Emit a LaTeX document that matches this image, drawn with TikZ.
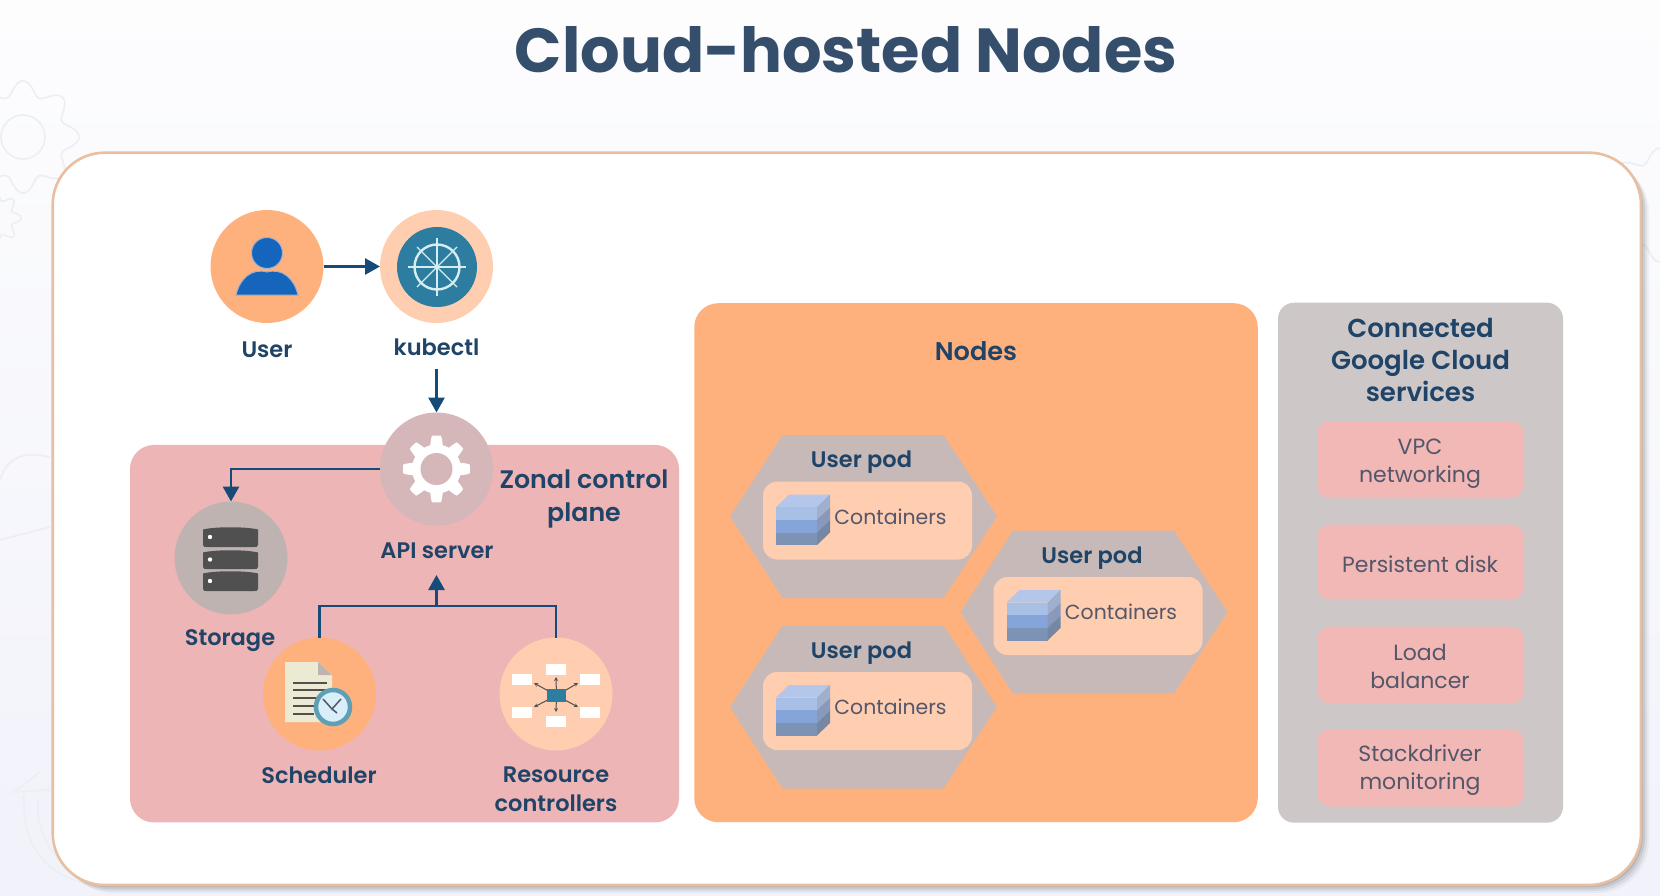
\documentclass[tikz,border=0pt]{standalone}
\usepackage{fontspec}
\setmainfont{Poppins}[BoldFont={Poppins SemiBold}]
\newfontfamily\headfont{Poppins}
\usetikzlibrary{arrows.meta,shapes.geometric}
\definecolor{ink}{HTML}{1F4468}
\definecolor{titleink}{HTML}{344E6C}
\definecolor{soft}{HTML}{54566A}
\definecolor{wire}{HTML}{164A78}
\definecolor{peach}{HTML}{FFB17D}
\definecolor{lightpeach}{HTML}{FFCDB0}
\definecolor{rosy}{HTML}{EDB5B5}
\definecolor{apicol}{HTML}{D5B6B9}
\definecolor{stor}{HTML}{BFB3B2}
\definecolor{hexcol}{HTML}{C6B9B7}
\definecolor{svc}{HTML}{CEC7C7}
\definecolor{svcbox}{HTML}{F1B8B6}
\definecolor{ghost}{HTML}{ECEEF4}
\definecolor{framecol}{HTML}{E8BFA0}
\definecolor{bgtop}{HTML}{FDFDFE}
\definecolor{bgbot}{HTML}{F1F2FA}
\definecolor{cubetop}{HTML}{B4C7EA}
\definecolor{cubea}{HTML}{A9C0E6}
\definecolor{cubeb}{HTML}{85A4DA}
\definecolor{cubec}{HTML}{7C93B5}
\definecolor{cubed}{HTML}{A0B0CC}
\definecolor{cubee}{HTML}{8899BB}
\definecolor{cubef}{HTML}{7587A3}
\definecolor{userblue}{HTML}{1565BD}
\definecolor{helm}{HTML}{2C7DA0}
\definecolor{helmline}{HTML}{D6EEF2}
\definecolor{disk}{HTML}{505050}
\definecolor{paper}{HTML}{ECEAD2}
\definecolor{ringc}{HTML}{5F9FB5}
\definecolor{facec}{HTML}{D8EEF8}
\tikzset{
  x=1pt,y=-1pt,
  disc/.style={circle,minimum size=113pt,inner sep=0pt,outer sep=0pt},
  panel/.style={rectangle,rounded corners=24pt,inner sep=0pt,outer sep=0pt},
  smallbox/.style={rectangle,rounded corners=13pt,inner sep=0pt,outer sep=0pt,fill=svcbox,minimum width=207pt},
  lab/.style={inner sep=0pt,outer sep=0pt,text=ink,align=center,font=\fontsize{22.5}{29}\selectfont\bfseries},
  soft text/.style={inner sep=0pt,outer sep=0pt,text=soft,align=center,font=\fontsize{22}{28}\selectfont},
  cont text/.style={inner sep=0pt,outer sep=0pt,text=soft,font=\fontsize{20.4}{24}\selectfont},
  wirearrow/.style={draw=wire,line width=2.8pt,-{Triangle[length=15pt,width=16pt]}},
  wireline/.style={draw=wire,line width=2.8pt},
  ghostline/.style={draw=ghost,line width=1.6pt},
}
\newcommand{\gearpath}[4]{% cx cy r amp
  plot[samples=181,domain=0:360,smooth] ({#1+(#3+#4*cos(8*\x))*cos(\x)},{#2+(#3+#4*cos(8*\x))*sin(\x)}) -- cycle}
\newcommand{\cubeicon}{%
  \fill[cubetop] (-87.5,-9.5) -- (-74.5,-22) -- (-33.5,-22) -- (-46.5,-9.5) -- cycle;
  \fill[cubea] (-87.5,-9.5) rectangle (-46.5,3);
  \fill[cubeb] (-87.5,3) rectangle (-46.5,16);
  \fill[cubec] (-87.5,16) rectangle (-46.5,28.5);
  \fill[cubed] (-46.5,-9.5) -- (-33.5,-22) -- (-33.5,-9) -- (-46.5,3) -- cycle;
  \fill[cubee] (-46.5,3) -- (-33.5,-9) -- (-33.5,3.5) -- (-46.5,16) -- cycle;
  \fill[cubef] (-46.5,16) -- (-33.5,3.5) -- (-33.5,16) -- (-46.5,28.5) -- cycle;
}
\newcommand{\podgroup}[3]{% name cx cy
  \begin{scope}[shift={(#2,#3)}]
    \fill[hexcol] (-133.5,0) -- (-81,-81.5) -- (80,-81.5) -- (133.5,0) -- (80,81.5) -- (-81,81.5) -- cycle;
    \node[lab] (#1label) at (-2,-54) {User pod};
    \node[rectangle,rounded corners=14pt,fill=lightpeach,minimum width=209pt,minimum height=78pt,inner sep=0pt] (#1inner) at (4,4) {};
    \cubeicon
    \node[cont text] (#1text) at (27,0) {Containers};
  \end{scope}}
\begin{document}
\begin{tikzpicture}
\useasboundingbox (0,0) rectangle (1660,896);
% background
\shade[top color=bgtop,bottom color=bgbot] (0,0) rectangle (1660,896);
% ghost decorations
\draw[ghostline] \gearpath{23}{137}{49}{7};
\draw[ghostline] (23,137) circle (22);
\draw[ghostline] \gearpath{-5}{218}{22}{4};
\draw[ghostline] (0,480) .. controls (8,455) and (25,452) .. (50,457);
\draw[ghostline] (0,540) -- (50,527);
\draw[ghostline] (50,790) -- (14,792) -- (40,772);
\draw[ghostline] (24,795) .. controls (22,840) and (40,870) .. (80,882);
\draw[ghostline] (38,800) .. controls (36,830) and (50,860) .. (80,875);
\draw[ghostline] \gearpath{1660}{205}{50}{7};
% frame
\foreach \o/\a in {8/.04,6/.06,4/.08,2/.10}{
  \fill[black,opacity=\a,rounded corners=52pt] (52.7+\o,152.7+\o) rectangle (1641+\o,885+\o);
}
\draw[draw=framecol,line width=2.6pt,fill=white,rounded corners=52pt] (52.7,152.7) rectangle (1641,885);
% title
\node[inner sep=0pt,text=titleink,font=\headfont\fontsize{62.2}{70}\selectfont\bfseries] (title) at (846,50) {Cloud-hosted Nodes};
% panels
\node[panel,fill=rosy,minimum width=549pt,minimum height=377.5pt] (zonal) at (404.5,633.7) {};
\node[panel,fill=peach,minimum width=563.5pt,minimum height=519pt] (nodesp) at (976,562.7) {};
\node[panel,rounded corners=16pt,fill=svc,minimum width=285pt,minimum height=520pt] (services) at (1420.5,562.7) {};
% discs
\node[disc,fill=peach] (user) at (267,266.5) {};
\node[disc,fill=lightpeach] (kubectl) at (436.5,266.5) {};
\node[disc,fill=apicol] (api) at (436.5,469) {};
\node[disc,fill=stor] (storage) at (231,558) {};
\node[disc,fill=peach] (sched) at (319.5,694) {};
\node[disc,fill=lightpeach] (rc) at (556,694) {};
% user icon
\filldraw[fill=userblue,draw=cubed,line width=1pt] (236,295) .. controls (240,278) and (252,268) .. (267,272) .. controls (282,268) and (294,278) .. (298,295) -- cycle;
\filldraw[fill=userblue,draw=cubed,line width=1pt] (267,253) circle (15.5);
% kubectl icon
\fill[helm] (437,267) circle (40);
\draw[helmline,line width=2.4pt] (437,267) circle (22.5);
\draw[helmline,line width=1.4pt] (408,267) -- (466,267) (437,238) -- (437,296);
\draw[helmline,line width=1.4pt] (417,247) -- (457,287) (457,247) -- (417,287);
% api gear
\fill[white] plot[samples=241,domain=0:360] ({436.5+(29+4.5*max(-1,min(1,2.2*cos(8*\x))))*cos(\x)},{469+(29+4.5*max(-1,min(1,2.2*cos(8*\x))))*sin(\x)}) -- cycle;
\fill[apicol] (436.5,469) circle (16);
% storage icon
\foreach \t/\b in {527/547,550/569,571/591}{
  \fill[disk] (203,\t+2.5) .. controls (215,\t-0.5) and (246,\t-0.5) .. (258,\t+2.5) -- (258,\b-2) .. controls (258,\b) and (256,\b) .. (254,\b) -- (207,\b) .. controls (205,\b) and (203,\b) .. (203,\b-2) -- cycle;
  \fill[white] (210,{(\t+\b)/2}) circle (2.2);
}
% scheduler icon
\fill[paper] (285,662) -- (318,662) -- (332,675) -- (332,722) -- (285,722) -- cycle;
\fill[stor] (318,662) -- (332,675) -- (318,675) -- cycle;
\foreach \ya/\xb in {683/327,690/327,698/320,706/317,714/314}{\draw[line width=2pt,draw=disk] (293,\ya) -- (\xb,\ya);}
\filldraw[fill=facec,draw=ringc,line width=4.5pt] (333,707) circle (17);
\draw[line width=1.5pt,draw=soft] (323,699) -- (332,709) -- (341,699) (332,709) -- (337,713);
% resource controller icon
\foreach \ax/\ay in {546/664,546/716,512/674,512/707,580/674,580/707}{
  \fill[white] (\ax,\ay) rectangle ++(20,10.5);
}
\foreach \tx/\ty in {556/677,556/712,534/683,578/683,534/707,578/707}{
  \draw[disk,line width=1pt,-{Stealth[length=4pt,width=4pt]}] (556.5,695.5) -- (\tx,\ty);
}
\fill[helm] (547,689) rectangle (566,702);
% labels
\node[lab] (userlabel) at (267,350) {User};
\node[lab] (kubelabel) at (436.5,347) {kubectl};
\node[lab] (apilabel) at (437,551) {API server};
\node[lab] (storlabel) at (230,641) {Storage};
\node[lab] (schedlabel) at (319,775) {Scheduler};
\node[lab] (rclabel) at (556,789.5) {Resource\\controllers};
\node[lab,font=\fontsize{25.3}{33}\selectfont\bfseries] (zonallabel) at (584,498.5) {Zonal control\\plane};
% connectors
\draw[wirearrow] (user) -- (kubectl);
\draw[wirearrow,shorten <=14pt] (kubelabel.south) -- (api.north);
\draw[wirearrow] (api.west) -| (storage.north);
\coordinate (bus) at (436.5,606);
\coordinate (apiin) at (436.5,575);
\draw[wireline] (sched.north) |- (bus) -| (rc.north);
\draw[wirearrow] (bus) -- (apiin);
% nodes panel
\node[lab,font=\fontsize{25.6}{30}\selectfont\bfseries] (nodestitle) at (976,351.5) {Nodes};
\podgroup{a}{863.5}{516.5}
\podgroup{b}{1094}{612}
\podgroup{c}{863.5}{707}
% services
\node[lab,font=\fontsize{26}{32.3}\selectfont\bfseries] (svctitle) at (1420.5,360) {Connected\\Google Cloud\\services};
\node[smallbox,minimum height=77pt] (vpc) at (1420.5,459.5) {};
\node[smallbox,minimum height=75pt] (pd) at (1420.5,562) {};
\node[smallbox,minimum height=77pt] (lb) at (1420.5,665) {};
\node[smallbox,minimum height=77pt] (sd) at (1420.5,768) {};
\node[soft text] (vpctext) at (1420,463.5) {VPC\\networking};
\node[soft text] (pdtext) at (1420,564) {Persistent disk};
\node[soft text] (lbtext) at (1420,666) {Load\\balancer};
\node[soft text] (sdtext) at (1420,770) {Stackdriver\\monitoring};
\end{tikzpicture}
\end{document}
